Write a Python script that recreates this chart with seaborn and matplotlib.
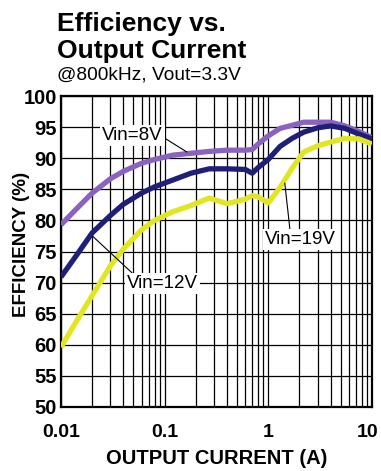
import numpy as np
import pandas as pd
import matplotlib
matplotlib.use("Agg")
import matplotlib.pyplot as plt
from matplotlib.ticker import FixedLocator, NullFormatter, LogLocator
from matplotlib.transforms import ScaledTranslation
import seaborn as sns

# Load current (A) sample points shared by all three curves
current = [0.01, 0.014, 0.02, 0.03, 0.04, 0.06, 0.08, 0.12, 0.18, 0.27, 0.4,
           0.6, 0.7, 0.8, 1.0, 1.3, 1.7, 2.2, 3.0, 4.0, 5.5, 7.5, 10.0]

# Efficiency (%) for each input voltage
eff_8v = [79.3, 81.8, 84.4, 86.7, 87.9, 89.2, 89.8, 90.5, 90.8, 91.1, 91.3,
          91.3, 91.4, 92.3, 93.6, 94.8, 95.3, 95.8, 95.8, 95.8, 95.2, 94.3, 93.3]
eff_12v = [70.9, 74.3, 78.0, 80.8, 82.6, 84.4, 85.4, 86.5, 87.6, 88.3, 88.3,
           88.2, 87.6, 88.5, 89.8, 91.9, 93.2, 94.2, 94.9, 95.2, 94.8, 93.9, 93.1]
eff_19v = [59.6, 63.7, 67.9, 72.7, 75.4, 78.5, 80.0, 81.4, 82.4, 83.6, 82.7,
           83.4, 84.0, 83.8, 82.8, 85.3, 88.4, 91.0, 92.0, 92.6, 93.2, 93.1, 92.3]

series_names = ["Vin=8V", "Vin=12V", "Vin=19V"]
series_values = [eff_8v, eff_12v, eff_19v]
series_colors = ["#8B62BE", "#1F1F78", "#E1E622"]

y_ticks = [50, 55, 60, 65, 70, 75, 80, 85, 90, 95, 100]
x_ticks = [0.01, 0.1, 1, 10]
x_tick_labels = ["0.01", "0.1", "1", "10"]

df = pd.concat(
    [pd.DataFrame({"current": current, "efficiency": vals, "vin": name})
     for name, vals in zip(series_names, series_values)],
    ignore_index=True,
)

sns.set_style("white")
plt.rcParams["font.family"] = ["Liberation Sans", "DejaVu Sans"]
plt.rcParams.update({"text.color": "black", "axes.labelcolor": "black",
                     "xtick.color": "black", "ytick.color": "black"})

fig = plt.figure(figsize=(3.81, 4.71), dpi=100)
ax = fig.add_axes([0.160, 0.136, 0.816, 0.660])

ax.set_xscale("log")
sns.lineplot(data=df, x="current", y="efficiency", hue="vin",
             hue_order=series_names, palette=series_colors,
             linewidth=3.8, legend=False, ax=ax, zorder=3,
             solid_capstyle="butt")

ax.set_xlim(0.01, 10)
ax.set_ylim(50, 100)

# grid: every 5 % vertically, full log decade subdivisions horizontally
ax.xaxis.set_major_locator(FixedLocator(x_ticks))
ax.xaxis.set_minor_locator(LogLocator(base=10, subs=np.arange(2, 10)))
ax.xaxis.set_minor_formatter(NullFormatter())
ax.set_xticklabels(x_tick_labels)
ax.set_yticks(y_ticks)
ax.grid(True, which="both", axis="x", color="black", linewidth=0.9)
ax.grid(True, which="major", axis="y", color="black", linewidth=0.9)
ax.tick_params(axis="both", which="both", length=0, labelcolor="black")
ax.tick_params(axis="x", pad=12, labelsize=14)
ax.tick_params(axis="y", pad=3, labelsize=14.5)
for lbl in ax.get_xticklabels() + ax.get_yticklabels():
    lbl.set_fontweight("bold")
# keep the right-most tick label inside the canvas
last = ax.get_xticklabels()[-1]
last.set_transform(last.get_transform()
                   + ScaledTranslation(-4 / 100, 0, fig.dpi_scale_trans))

for side in ["left", "right", "top", "bottom"]:
    ax.spines[side].set_visible(True)
    ax.spines[side].set_color("black")
    ax.spines[side].set_linewidth(1.6)

ax.set_xlabel("OUTPUT CURRENT (A)", fontsize=14.5, fontweight="bold",
              labelpad=6, color="black")
ax.set_ylabel("EFFICIENCY (%)", fontsize=13.5, fontweight="bold", color="black")
ax.yaxis.set_label_coords(-0.100, 0.524)

# curve call-outs with leader lines
box = dict(boxstyle="square,pad=0.1", fc="white", ec="none")
line = dict(arrowstyle="-", color="black", lw=0.8, shrinkA=0, shrinkB=0)
ax.annotate("Vin=8V", xy=(0.164, 91.0), xytext=(0.049, 93.7),
            fontsize=13.5, ha="center", va="center", bbox=box, zorder=5,
            color="black", arrowprops=dict(line, relpos=(1.0, 0.4)))
ax.annotate("Vin=12V", xy=(0.0204, 77.4), xytext=(0.0953, 69.9),
            fontsize=13.5, ha="center", va="center", bbox=box, zorder=5,
            color="black", arrowprops=dict(line, relpos=(0.1, 1.0)))
ax.annotate("Vin=19V", xy=(1.445, 86.0), xytext=(2.06, 76.9),
            fontsize=13.5, ha="center", va="center", bbox=box, zorder=5,
            color="black", arrowprops=dict(line, relpos=(0.35, 1.0)))

# heading
fig.text(0.150, 1 - 31 / 471, "Efficiency vs.", fontsize=19,
         fontweight="bold", ha="left", va="baseline", color="black")
fig.text(0.150, 1 - 58 / 471, "Output Current", fontsize=19,
         fontweight="bold", ha="left", va="baseline", color="black")
fig.text(0.150, 1 - 79 / 471, "@800kHz, Vout=3.3V", fontsize=13.8,
         ha="left", va="baseline", color="black")

fig.savefig("out.png", dpi=100)
